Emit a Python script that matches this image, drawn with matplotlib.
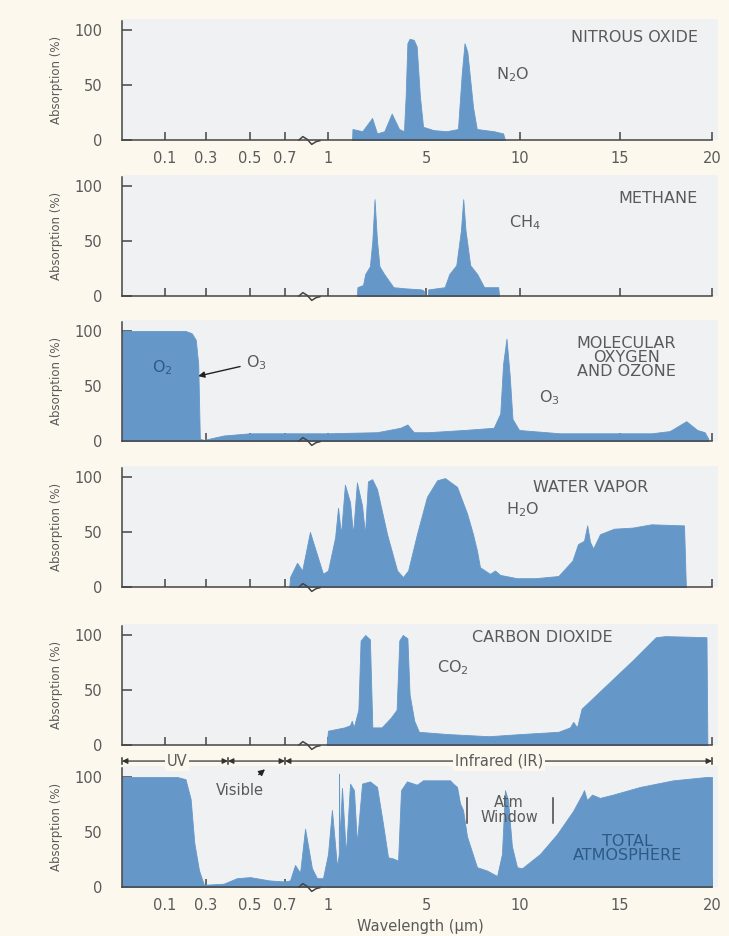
"""Atmospheric absorption spectra of the main gases, stacked panels."""

import numpy as np
import matplotlib
matplotlib.use("Agg")
import matplotlib.pyplot as plt
from matplotlib.path import Path

# ---- data ------------------------------------------------------------------
n2o_wl = [1.98, 2.0, 2.4, 2.8, 3.0, 3.3, 3.6, 3.9, 4.1, 4.17, 4.24, 4.33,
          4.5, 4.62, 4.75, 4.88, 5.4, 6.1, 6.7, 6.9, 7.05, 7.2, 7.5, 7.7,
          8.6, 9.1, 9.2]
n2o_abs = [0, 10, 8, 20, 6, 8, 24, 10, 8, 40, 88, 92,
           91, 85, 40, 12, 9, 8, 10, 60, 88, 80, 30, 10,
           8, 6, 0]

ch4_wl = [2.18, 2.2, 2.43, 2.52, 2.71, 2.81, 2.9, 3.0, 3.1, 3.29, 3.67, 4.14,
          4.81, 4.9, 4.95, 5.1, 5.12, 5.99, 6.24, 6.61, 6.86, 6.98, 7.1, 7.35,
          7.72, 8.09, 8.84, 8.89]
ch4_abs = [0, 8, 10, 20, 27, 50, 88, 50, 27, 20, 8, 7,
           6, 5, 1, 1, 6, 8, 20, 28, 60, 88, 60, 28,
           20, 8, 8, 0]

o3_wl = [0, 0.2, 0.23, 0.25, 0.262, 0.27, 0.29, 0.38, 0.5, 1.0, 3.0, 3.95,
         4.24, 4.5, 5.1, 7.0, 8.6, 8.95, 9.1, 9.28, 9.45, 9.6, 9.95, 12, 16.7,
         17.7, 18.6, 19.2, 19.6, 19.8]
o3_abs = [100, 100, 98, 92, 70, 2, 1, 5, 7, 7, 8, 12,
          15, 8, 8, 10, 12, 25, 70, 93, 60, 20, 10, 7, 7,
          9, 18, 10, 8, 2]

h2o_wl = [0.73, 0.735, 0.784, 0.82, 0.874, 0.965, 1.0, 1.29, 1.41, 1.53, 1.69,
          1.9, 2.02, 2.18, 2.39, 2.51, 2.63, 2.8, 3.0, 3.41, 3.82, 4.06, 4.27,
          4.63, 5.05, 5.59, 6.01, 6.65, 7.18, 7.5, 7.71, 7.87, 8.4, 8.67, 8.94,
          9.84, 10.76, 11.92, 12.62, 12.9, 13.2, 13.36, 13.5, 13.66, 14.0, 14.7,
          15.69, 16.7, 18.48, 18.58]
h2o_abs = [0, 9, 22, 15, 50, 12, 15, 45, 72, 48, 93,
           77, 48, 95, 74, 48, 96, 98, 89, 48, 15, 9, 15,
           48, 82, 97, 99, 91, 67, 48, 33, 18, 12, 15, 11,
           8, 8, 10, 24, 39, 42, 56, 41, 35, 48, 53,
           54, 57, 56, 0]

co2_wl = [0.99, 1.0, 1.67, 1.9, 1.97, 2.05, 2.24, 2.33, 2.52, 2.71, 2.81, 3.19,
          3.57, 3.8, 3.91, 4.05, 4.24, 4.33, 4.52, 4.71, 6.11, 8.34, 10.07,
          11.92, 12.5, 12.66, 12.85, 13.08, 14.24, 15.69, 16.95, 17.46, 19.7,
          19.75]
co2_abs = [0, 13, 16, 18, 22, 16, 32, 95, 100, 96, 16, 16,
           25, 32, 95, 100, 97, 46, 22, 12, 10, 8, 10,
           12, 16, 21, 16, 33, 53, 77, 98, 99, 98,
           0]

total_wl = [0, 0.16, 0.2, 0.225, 0.243, 0.266, 0.29, 0.38, 0.44, 0.5, 0.61,
            0.7, 0.735, 0.77, 0.805, 0.84, 0.888, 0.923, 0.965, 1.0, 1.16,
            1.37, 1.44, 1.45, 1.47, 1.57, 1.73, 1.9, 2.06, 2.18, 2.39, 2.71,
            3.0, 3.24, 3.45, 3.65, 3.86, 3.98, 4.22, 4.63, 4.88, 5.74, 6.28,
            6.44, 6.65, 6.81, 6.97, 7.18, 7.71, 8.24, 8.78, 9.04, 9.2, 9.36,
            9.57, 9.84, 10.1, 11.0, 11.85, 12.65, 13.1, 13.2, 13.35, 13.6,
            14.0, 14.65, 16.1, 17.9, 19.7, 20]
total_abs = [100, 100, 98, 80, 40, 15, 2, 3, 8, 9, 6,
             5, 6, 20, 13, 53, 17, 8, 8, 30, 70,
             18, 30, 103, 40, 90, 30, 94, 88, 40, 94, 96,
             91, 58, 27, 26, 24, 88, 96, 93, 97, 97, 97,
             94, 91, 76, 70, 46, 18, 15, 10, 30, 88, 79,
             37, 18, 17, 30, 48, 69, 84, 88, 79, 84,
             81, 84, 91, 97, 100, 100]

x_ticks = [0.1, 0.3, 0.5, 0.7, 1, 5, 10, 15, 20]
x_tick_labels = ["0.1", "0.3", "0.5", "0.7", "1", "5", "10", "15", "20"]
y_ticks = [0, 50, 100]

# broken / stretched wavelength axis of the original figure
scale_wl = [0, 0.1, 0.3, 0.5, 0.7, 1, 5, 10, 15, 20, 20.3]
scale_pos = [122, 165, 206, 250, 285, 328, 426, 520, 620, 712, 718]


def fwd(x):
    return np.interp(x, scale_wl, scale_pos)


def inv(p):
    return np.interp(p, scale_pos, scale_wl)


BG = "#fcf8ee"
PANEL = "#f0f1f2"
BLUE = "#6598c9"
DARK = "#444444"
TXT = "#5a5a5a"
DEEP = "#2d5a85"

# little wave used as the axis-break mark
break_mark = Path([(-1.0, 0.0), (-0.6, 0.35), (-0.2, 0.1), (0.2, -0.35),
                   (0.6, -0.1), (1.0, 0.0)])

fig = plt.figure(figsize=(7.29, 9.36), dpi=100, facecolor=BG)

zero_rows = [140, 296, 441, 587, 745, 887]   # pixel row of 0 % in each panel
px_per_pct = 1.1
series = [(n2o_wl, n2o_abs), (ch4_wl, ch4_abs), (o3_wl, o3_abs),
          (h2o_wl, h2o_abs), (co2_wl, co2_abs), (total_wl, total_abs)]

axes = []
for i, (wl, ab) in enumerate(series):
    y0 = zero_rows[i]
    h = 110 * px_per_pct
    ax = fig.add_axes([122 / 729, 1 - y0 / 936, (718 - 122) / 729, h / 936])
    ax.set_facecolor(PANEL)
    ax.set_xscale("function", functions=(fwd, inv))
    ax.set_xlim(0, 20.3)
    ax.set_ylim(0, 110)
    ax.fill_between(wl, ab, 0, color=BLUE, linewidth=0.6, edgecolor=BLUE, zorder=2)

    for s in ("top", "right"):
        ax.spines[s].set_visible(False)
    for s in ("left", "bottom"):
        ax.spines[s].set_color(DARK)
        ax.spines[s].set_linewidth(1.1)
        ax.spines[s].set_zorder(3)
    ax.spines["left"].set_bounds(0, 108)
    ax.spines["bottom"].set_bounds(0, 20)

    ax.set_xticks(x_ticks)
    if i in (0, 5):
        ax.set_xticklabels(x_tick_labels)
    else:
        ax.set_xticklabels([])
    ax.set_yticks(y_ticks)
    ax.set_yticklabels([str(v) for v in y_ticks])
    ax.tick_params(axis="x", direction="in", length=6, width=1.1, color=DARK,
                   labelsize=10.5, labelcolor=TXT, pad=8)
    ax.tick_params(axis="y", direction="in", length=7, width=1.1, color=DARK,
                   labelsize=10.5, labelcolor=TXT, pad=14)
    ax.minorticks_off()
    ax.set_ylabel("Absorption (%)", fontsize=8.5, color=TXT, labelpad=8)
    # axis break squiggle
    ax.plot([0.865], [0], marker=break_mark, markersize=16, linestyle="none",
            markerfacecolor="none", markeredgecolor=DARK, markeredgewidth=1.1,
            zorder=4, clip_on=False)
    axes.append(ax)

lab = dict(fontsize=11.5, color=TXT)
a1, a2, a3, a4, a5, a6 = axes
a1.text(19.24, 93, "NITROUS OXIDE", ha="right", va="center", **lab)
a1.text(9.63, 59, "N$_2$O", ha="center", va="center", **lab)
a2.text(19.24, 89, "METHANE", ha="right", va="center", **lab)
a2.text(10.25, 67, "CH$_4$", ha="center", va="center", **lab)
a3.text(15.33, 76, "MOLECULAR\nOXYGEN\nAND OZONE", ha="center", va="center",
        linespacing=0.95, **lab)
a3.text(0.095, 67, "O$_2$", ha="center", va="center", fontsize=11.5, color=DEEP)
a3.annotate("O$_3$", xy=(0.262, 59), xytext=(0.48, 71), ha="left", va="center",
            arrowprops=dict(arrowstyle="-|>", color="#222222", lw=1,
                            shrinkA=2, shrinkB=0, mutation_scale=9), **lab)
a3.text(11.45, 39, "O$_3$", ha="center", va="center", **lab)
a4.text(13.55, 90, "WATER VAPOR", ha="center", va="center", **lab)
a4.text(10.15, 70, "H$_2$O", ha="center", va="center", **lab)
a5.text(11.1, 98, "CARBON DIOXIDE", ha="center", va="center", **lab)
a5.text(6.44, 70, "CO$_2$", ha="center", va="center", **lab)
a6.text(15.43, 35, "TOTAL\nATMOSPHERE", ha="center", va="center",
        linespacing=0.95, fontsize=11.5, color=DEEP)
a6.text(9.42, 70, "Atm\nWindow", ha="center", va="center", linespacing=0.95,
        fontsize=10.5, color=TXT, zorder=5)
for xb in (7.18, 11.65):
    a6.plot([xb, xb], [58, 81], color=DARK, lw=1.1, zorder=5)
a6.annotate("Visible", xy=(0.586, 107), xytext=(0.455, 88), ha="center",
            va="center", fontsize=10.5, color=TXT,
            arrowprops=dict(arrowstyle="-|>", color="#222222", lw=1,
                            shrinkA=6, shrinkB=0, mutation_scale=9))
a6.set_xlabel("Wavelength (\u00b5m)", fontsize=10.5, color=TXT, labelpad=4)

# spectral band markers above the last panel
yb = 114.5
bands = [(0, 0.4, "UV", 0.159), (0.4, 0.7, "", None), (0.7, 20, "Infrared (IR)", 8.9)]
for lo, hi, name, xt in bands:
    a6.annotate("", xy=(lo, yb), xytext=(hi, yb), annotation_clip=False,
                arrowprops=dict(arrowstyle="<|-|>", color="#333333", lw=0.9,
                                shrinkA=0, shrinkB=0, mutation_scale=8))
    if name:
        a6.text(xt, yb, name, ha="center", va="center", fontsize=10.5,
                color=TXT, clip_on=False,
                bbox=dict(facecolor=BG, edgecolor="none", pad=1.5))
for xb in (0, 0.4, 0.7, 20):
    a6.plot([xb, xb], [yb - 2.5, yb + 2.5], color="#333333", lw=1.1,
            clip_on=False)

fig.savefig("out.png", dpi=100, facecolor=BG)
